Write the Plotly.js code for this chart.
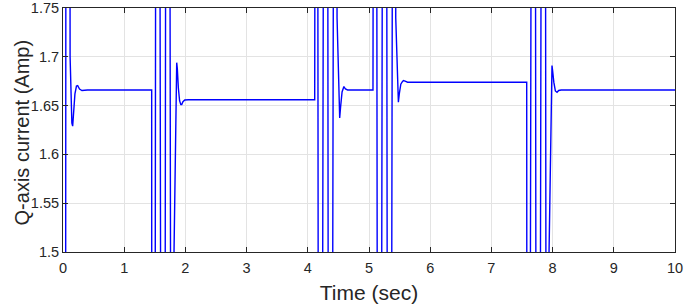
<!DOCTYPE html>
<html>
<head>
<meta charset="utf-8">
<script src="https://cdn.plot.ly/plotly-3.0.1.min.js"></script>
<style>html,body{margin:0;padding:0;background:#fff;}#chart{width:685px;height:305px;}</style>
</head>
<body>
<div id="chart"></div>
<script>
// Time samples (sec)
const timeSec = [
  0.000, 0.035, 0.055, 0.080, 0.100, 0.116, 0.130, 0.145, 0.158, 0.172, 0.195, 0.220, 0.240, 0.270, 0.310, 0.400,
  1.449, 1.455, 1.480, 1.540, 1.640, 1.706, 1.800, 1.814, 1.858, 1.868, 1.885, 1.905, 1.925, 1.940, 1.960, 1.990, 2.050,
  4.113, 4.140, 4.194, 4.302, 4.358, 4.466, 4.478, 4.512, 4.521, 4.535, 4.560, 4.590, 4.615, 4.650,
  5.065, 5.098, 5.164, 5.260, 5.328, 5.424, 5.437, 5.470, 5.480, 5.495, 5.520, 5.540, 5.562, 5.590, 5.630,
  7.577, 7.590, 7.694, 7.754, 7.858, 7.918, 7.942, 7.990, 8.000, 8.020, 8.045, 8.072, 8.100, 8.140, 10.000
];
// Q-axis current (Amp) at those samples
const qCurrent = [
  0.000, 0.500, 2.750, 3.200, 3.000, 1.700, 1.645, 1.632, 1.629, 1.640, 1.662, 1.670, 1.6705, 1.667, 1.6655, 1.666,
  1.666, 0.300, 0.000, 3.250, 0.000, 3.250, 0.000, 1.500, 1.694, 1.688, 1.668, 1.655, 1.651, 1.651, 1.654, 1.6558, 1.656,
  1.656, 3.250, 0.000, 3.250, 0.000, 3.250, 1.740, 1.645, 1.6374, 1.648, 1.664, 1.6695, 1.667, 1.666,
  1.666, 3.250, 0.000, 3.250, 0.000, 3.250, 1.740, 1.660, 1.6534, 1.662, 1.672, 1.674, 1.6757, 1.675, 1.674,
  1.674, 0.000, 3.250, 0.000, 3.250, 0.000, 1.500, 1.691, 1.686, 1.674, 1.665, 1.6636, 1.6655, 1.666, 1.666
];
const xTicks = [0, 1, 2, 3, 4, 5, 6, 7, 8, 9, 10];
const xTickText = ['0', '1', '2', '3', '4', '5', '6', '7', '8', '9', '10'];
const yTicks = [1.5, 1.55, 1.6, 1.65, 1.7, 1.75];
const yTickText = ['1.5', '1.55', '1.6', '1.65', '1.7', '1.75'];
const xTitle = 'Time (sec)';
const yTitle = 'Q-axis current (Amp)';

const fontFamily = 'Liberation Sans, Arial, sans-serif';
const textColor = '#262626';

const trace = {
  x: timeSec,
  y: qCurrent,
  type: 'scatter',
  mode: 'lines',
  line: {color: '#0000ff', width: 1.4},
  hoverinfo: 'skip'
};

const axisCommon = {
  showline: true,
  linecolor: '#262626',
  linewidth: 1,
  mirror: 'ticks',
  ticks: 'inside',
  ticklen: 5,
  tickcolor: '#262626',
  showgrid: true,
  gridcolor: '#e3e3e3',
  gridwidth: 1,
  zeroline: false,
  tickfont: {family: fontFamily, size: 14.5, color: textColor},
  ticklabeloverflow: 'allow',
  automargin: false
};

const layout = {
  width: 685,
  height: 305,
  margin: {l: 63, r: 10, t: 8, b: 53},
  paper_bgcolor: '#ffffff',
  plot_bgcolor: '#ffffff',
  showlegend: false,
  font: {family: fontFamily, color: textColor},
  xaxis: Object.assign({}, axisCommon, {
    range: [0, 10],
    tickmode: 'array',
    tickvals: xTicks,
    ticktext: xTickText,
    ticklabelstandoff: 3,
    title: {text: xTitle, font: {family: fontFamily, size: 21, color: textColor}, standoff: 9}
  }),
  yaxis: Object.assign({}, axisCommon, {
    range: [1.5, 1.75001],
    tickmode: 'array',
    tickvals: yTicks,
    ticktext: yTickText
  }),
  annotations: [{
    text: yTitle,
    xref: 'paper', yref: 'paper',
    x: 0, y: 0.49,
    xshift: -41,
    xanchor: 'center', yanchor: 'middle',
    textangle: -90,
    showarrow: false,
    font: {family: fontFamily, size: 20, color: textColor}
  }]
};

Plotly.newPlot('chart', [trace], layout, {staticPlot: true, displayModeBar: false});
</script>
</body>
</html>
